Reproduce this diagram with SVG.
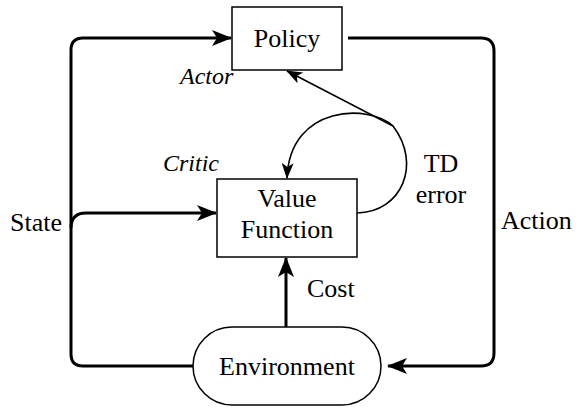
<svg xmlns="http://www.w3.org/2000/svg" width="582" height="411" viewBox="0 0 582 411" font-family="Times New Roman">
<defs>
<marker id="ah" viewBox="0 0 20 16" refX="19" refY="8" markerWidth="20" markerHeight="16" markerUnits="userSpaceOnUse" orient="auto">
<path d="M0,0 L20,8 L0,16 L5,8 Z" fill="#000"/>
</marker>
<marker id="ahs" viewBox="0 0 16 12" refX="15" refY="6" markerWidth="16" markerHeight="12" markerUnits="userSpaceOnUse" orient="auto">
<path d="M0,0 L16,6 L0,12 L4,6 Z" fill="#000"/>
</marker>
</defs>
<g id="connectors" fill="none" stroke="#000">
<g stroke-width="3" stroke-linejoin="round">
<path d="M193,366 L83,366 Q71,366 71,354 L71,50 Q71,38 83,38 L231,38" marker-end="url(#ah)"/>
<path d="M71,228 Q71,213 86,213 L216,213" marker-end="url(#ah)"/>
<path d="M348,38 L481,38 Q494,38 494,51 L494,353 Q494,366 481,366 L388,366" marker-end="url(#ah)"/>
<path d="M286,327 L286,258" marker-end="url(#ah)"/>
</g>
<g stroke-width="1.6">
<path d="M357,213 C402,212 422,164 393,126 C370,104 290,104 287,178" marker-end="url(#ahs)"/>
<path d="M393,126 L287,71" marker-end="url(#ahs)"/>
</g>
</g>
<g id="policy">
<rect x="232" y="7" width="110" height="63" fill="#fff" stroke="#000" stroke-width="1.5"/>
<text x="287" y="47" font-family="Times New Roman" font-size="26" text-anchor="middle">Policy</text>
</g>
<g id="value-function">
<rect x="217" y="179" width="140" height="78" fill="#fff" stroke="#000" stroke-width="1.5"/>
<text x="287" y="207" font-family="Times New Roman" font-size="26" text-anchor="middle">Value</text>
<text x="287" y="238" font-family="Times New Roman" font-size="26" text-anchor="middle">Function</text>
</g>
<g id="environment">
<rect x="193" y="327" width="188" height="78" rx="39" ry="39" fill="#fff" stroke="#000" stroke-width="1.5"/>
<text x="287" y="375" font-family="Times New Roman" font-size="26" text-anchor="middle">Environment</text>
</g>
<g id="labels">
<text x="180" y="84" font-family="Times New Roman" font-style="italic" font-size="24">Actor</text>
<text x="163" y="171" font-family="Times New Roman" font-style="italic" font-size="24">Critic</text>
<text x="441" y="172" font-family="Times New Roman" font-size="26" text-anchor="middle">TD</text>
<text x="441" y="203" font-family="Times New Roman" font-size="26" text-anchor="middle">error</text>
<text x="10" y="231" font-family="Times New Roman" font-size="26">State</text>
<text x="501" y="229" font-family="Times New Roman" font-size="26">Action</text>
<text x="307" y="297" font-family="Times New Roman" font-size="26">Cost</text>
</g>
</svg>
